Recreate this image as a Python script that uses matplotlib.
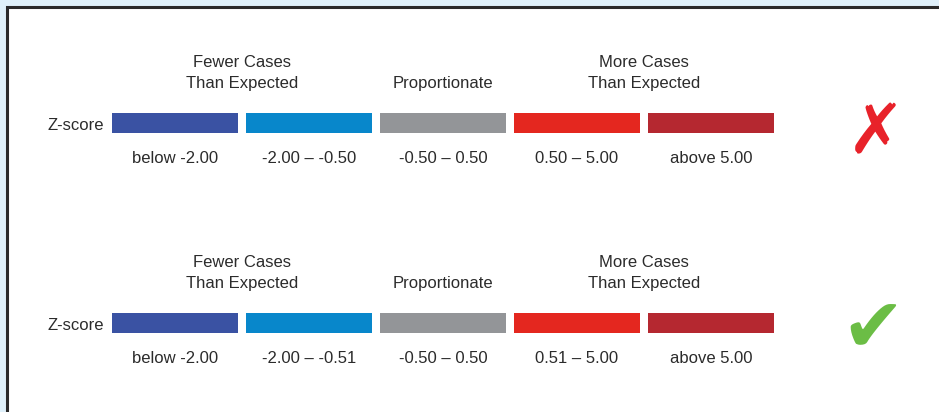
import matplotlib.pyplot as plt
from matplotlib.patches import Rectangle

# categories shown on the z-score scale
groups = ['Fewer Cases\nThan Expected', 'Proportionate', 'More Cases\nThan Expected']
group_span = [(0, 1), (2, 2), (3, 4)]   # which bars each group label sits over
bar_colors = ['#3a52a3', '#0887cb', '#939598', '#e4271f', '#b52830']

# two versions of the range labels (wrong one on top, corrected one below)
ranges_bad = ['below -2.00', '-2.00 \u2013 -0.50', '-0.50 \u2013 0.50', '0.50 \u2013 5.00', 'above 5.00']
ranges_good = ['below -2.00', '-2.00 \u2013 -0.51', '-0.50 \u2013 0.50', '0.51 \u2013 5.00', 'above 5.00']
rows = [(ranges_bad, 0), (ranges_good, 200)]

txt = '#2b2b2b'
plt.rcParams['font.family'] = ['Liberation Sans', 'DejaVu Sans']

fig = plt.figure(figsize=(9.39, 4.12), dpi=100)
fig.patch.set_facecolor('#dff0fa')
ax = fig.add_axes([0, 0, 1, 1])
ax.set_xlim(0, 939)
ax.set_ylim(412, 0)
ax.axis('off')

# white panel with dark frame (runs off the right and bottom edge)
ax.add_patch(Rectangle((6.5, 6.5), 960, 440, facecolor='white',
                       edgecolor='#2a2a2a', linewidth=2.2, zorder=0))

x0, step, w = 175, 134, 126
for labels, dy in rows:
    xs = [x0 + step * i for i in range(len(labels))]
    ax.bar(xs, 20, width=w, bottom=113 + dy, color=bar_colors, zorder=2)
    ax.text(104, 130 + dy, 'Z-score', ha='right', va='baseline', fontsize=12, color=txt)
    for x, lab in zip(xs, labels):
        ax.text(x, 163 + dy, lab, ha='center', va='baseline', fontsize=12, color=txt)
    for g, (a, b) in zip(groups, group_span):
        cx = (xs[a] + xs[b]) / 2
        lines = g.split('\n')
        for k, line in enumerate(reversed(lines)):
            ax.text(cx, 88 + dy - 21 * k, line, ha='center', va='baseline',
                    fontsize=12, color=txt)

# wrong / right marks
ax.text(876, 134, '\u2717', ha='center', va='center', fontsize=50,
        color='#e8222a', family='DejaVu Sans', fontweight='bold')
ax.text(873, 331, '\u2714', ha='center', va='center', fontsize=54,
        color='#6bbd45', family='DejaVu Sans')

fig.savefig('out.png', dpi=100, facecolor=fig.get_facecolor())
